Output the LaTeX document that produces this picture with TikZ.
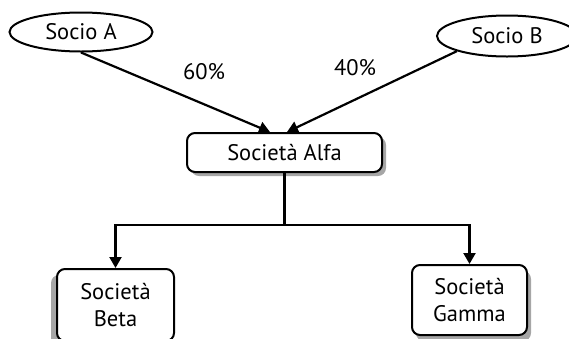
\documentclass[tikz,border=0pt]{standalone}
\usepackage{fontspec}
\setmainfont{PT Sans}
\usetikzlibrary{shapes.geometric,shadows,arrows.meta}

\tikzset{
  socio/.style={draw, ellipse, line width=2pt, inner sep=0pt, minimum width=143pt, minimum height=39pt},
  societa/.style={draw, fill=white, rounded corners=8pt, line width=2pt, align=center, inner sep=0pt},
  arr/.style={line width=2.2pt, -{Triangle[length=11pt,width=12pt]}},
}

\begin{document}
\begin{tikzpicture}[x=1pt, y=-1pt, font=\fontsize{22.5}{27}\selectfont]
            \useasboundingbox (0,0) rectangle (569,338);
            % Soci
            \node[socio] (socA) at (81,32) {Socio A};
            \node[socio, minimum width=140pt, minimum height=41pt] (socB) at (507,36) {Socio B};
            % Societa
            \node[societa, minimum width=195pt, minimum height=39pt,
                  drop shadow={shadow xshift=4pt, shadow yshift=-4pt, fill=gray!70, opacity=1}] (alfa) at (284.5,152.5) {Società Alfa};
            \node[societa, minimum width=117pt, minimum height=72pt,
                  drop shadow={shadow xshift=-6pt, shadow yshift=-6pt, fill=gray!70, opacity=1}] (beta) at (115.5,305) {Società\\Beta};
            \node[societa, minimum width=115pt, minimum height=70pt,
                  drop shadow={shadow xshift=4pt, shadow yshift=-6pt, fill=gray!70, opacity=1}] (gamma) at (469.5,300) {Società\\Gamma};
            % Quote
            \node (pctA) at (204,72) {60\%};
            \node (pctB) at (355,68) {40\%};
            % Frecce
            \draw[arr] (socA.south) -- ([xshift=-14.5pt]alfa.north);
            \draw[arr] (socB.south west) -- ([xshift=2.5pt]alfa.north);
            \coordinate (fork) at (284.5,225);
            \draw[line width=2.2pt] (alfa.south) -- (fork);
            \draw[arr] (fork) -| (beta.north);
            \draw[arr] (fork) -| (gamma.north);
        \end{tikzpicture}
\end{document}
